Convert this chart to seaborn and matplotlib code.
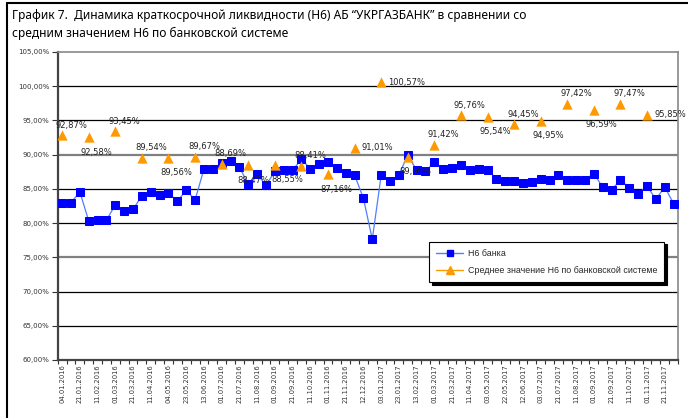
import numpy as np
import pandas as pd
import matplotlib.pyplot as plt
from matplotlib.lines import Line2D
import seaborn as sns

# tick labels (every second observation is labelled)
date_labels = ["04.01.2016", "21.01.2016", "11.02.2016", "01.03.2016", "21.03.2016",
               "11.04.2016", "04.05.2016", "23.05.2016", "13.06.2016", "01.07.2016",
               "21.07.2016", "11.08.2016", "01.09.2016", "21.09.2016", "11.10.2016",
               "01.11.2016", "21.11.2016", "12.12.2016", "03.01.2017", "23.01.2017",
               "13.02.2017", "01.03.2017", "21.03.2017", "11.04.2017", "03.05.2017",
               "22.05.2017", "12.06.2017", "03.07.2017", "21.07.2017", "11.08.2017",
               "01.09.2017", "21.09.2017", "11.10.2017", "01.11.2017", "21.11.2017"]

# Н6 банка (70 observations)
bank_h6 = [83.0, 83.0, 84.55, 80.3, 80.45, 80.45, 82.65, 81.7, 82.0, 84.0,
           84.55, 84.06, 84.4, 83.2, 84.8, 83.4, 87.87, 87.9, 88.79, 89.08,
           88.2, 85.67, 87.2, 85.5, 87.57, 87.72, 87.72, 89.33, 87.97, 88.7,
           88.89, 88.1, 87.38, 87.03, 83.6, 77.63, 86.99, 86.1, 87.03, 89.96,
           87.72, 87.57, 88.93, 87.87, 88.1, 88.55, 87.77, 87.87, 87.82, 86.5,
           86.16, 86.16, 85.92, 86.06, 86.4, 86.3, 86.99, 86.35, 86.35, 86.35,
           87.24, 85.23, 84.89, 86.26, 85.19, 84.31, 85.42, 83.48, 85.28, 82.85]

# Среднее значение Н6 по банковской системе (every third observation)
system_h6 = [92.87, 92.58, 93.45, 89.54, 89.56, 89.67, 88.69, 88.47, 88.55, 88.41,
             87.16, 91.01, 100.57, 89.69, 91.42, 95.76, 95.54, 94.45, 94.95, 97.42,
             96.59, 97.47, 95.85]
system_label_pos = ["above", "below", "above", "above", "below", "above", "above", "below",
                    "below", "above", "below", "right", "right", "below", "above", "above",
                    "below", "above", "below", "above", "below", "above", "right"]

n = len(bank_h6)
bank_df = pd.DataFrame({"x": np.arange(n), "v": bank_h6})
sys_df = pd.DataFrame({"x": np.arange(0, n, 3)[:len(system_h6)], "v": system_h6})

sns.set_style("white")
plt.rcParams['font.family'] = ['DejaVu Sans']

fig = plt.figure(figsize=(6.88, 4.18), dpi=100)
ax = fig.add_axes([0.0839, 0.1388, 0.9016, 0.7368])

# gridlines (Excel renders two of them grey)
for g in range(65, 105, 5):
    if g in (90, 75):
        ax.axhline(g, color="#808080", lw=1.6, zorder=0)
    else:
        ax.axhline(g, color="black", lw=0.9, zorder=0)

sns.lineplot(data=bank_df, x="x", y="v", ax=ax, color="#4F7FFF", lw=0.9,
             marker="s", markersize=5.2, markerfacecolor="#0000FF",
             markeredgecolor="#0000FF", zorder=3)
sns.scatterplot(data=sys_df, x="x", y="v", ax=ax, marker="^", s=55,
                color="#FF9900", edgecolor="#FF9900", linewidth=0, zorder=4)

# small horizontal nudges for two crowded labels
nudge = {7: -3, 8: 4}
for i, (xi, v, pos) in enumerate(zip(sys_df["x"], sys_df["v"], system_label_pos)):
    txt = f"{v:.2f}%".replace(".", ",")
    if pos == "above":
        off, ha = [9, 10], "center"
    elif pos == "below":
        off, ha = [8, -15], "center"
    else:
        off, ha = [7, 0], "left"
    off[0] += nudge.get(i, 0)
    ax.annotate(txt, (xi, v), xytext=off, textcoords="offset pixels",
                ha=ha, va="center", fontsize=6.0, color="#222222", zorder=5)

ax.set_xlim(-0.5, n - 0.5)
ax.set_ylim(60, 105)
ax.set_yticks(range(60, 106, 5))
ax.set_yticklabels([f"{t},00%" for t in range(60, 106, 5)], fontsize=5, color="#333333")
ax.set_xticks(np.arange(0, n, 2))
ax.set_xticklabels(date_labels, rotation=90, fontsize=4.9, color="#333333")
ax.set_xticks(np.arange(-0.5, n, 1), minor=True)
ax.tick_params(axis="x", which="major", length=0, pad=3)
ax.tick_params(axis="x", which="minor", length=3, width=0.8, color="#333333", direction="out", bottom=True)
ax.tick_params(axis="y", length=4, width=0.8, color="#333333", direction="out", left=True, pad=2)
ax.set_xlabel("")
ax.set_ylabel("")

for side in ("left", "bottom"):
    ax.spines[side].set_color("#444444")
    ax.spines[side].set_linewidth(1.6)
for side in ("top", "right"):
    ax.spines[side].set_color("#888888")
    ax.spines[side].set_linewidth(1.2)

handles = [
    Line2D([], [], color="#4F7FFF", lw=1, marker="s", markersize=5,
           markerfacecolor="#0000FF", markeredgecolor="#0000FF"),
    Line2D([], [], color="#FF9900", lw=1, marker="^", markersize=6,
           markerfacecolor="#FF9900", markeredgecolor="#FF9900"),
]
leg = ax.legend(handles, ["Н6 банка", "Среднее значение Н6 по банковской системе"],
                loc="upper left", bbox_to_anchor=(0.592, 0.399),
                prop={"family": ["Liberation Sans", "DejaVu Sans"], "size": 6.4},
                frameon=True, fancybox=False, framealpha=1, edgecolor="black",
                shadow={"color": "black", "alpha": 1}, handlelength=3,
                handletextpad=0.5, borderpad=0.8, labelspacing=0.9)
leg.get_frame().set_linewidth(0.8)
leg.set_zorder(10)

fig.text(12 / 688, 1 - 9 / 418,
         "График 7.  Динамика краткосрочной ликвидности (Н6) АБ “УКРГАЗБАНК” в сравнении со\n"
         "средним значением Н6 по банковской системе",
         ha="left", va="top", fontsize=8.6, family=["Noto Sans", "DejaVu Sans"],
         linespacing=1.45, color="black")

# outer chart border
fig.add_artist(Line2D([7 / 688, 7 / 688], [0, 1 - 3 / 418], color="black", lw=1.5))
fig.add_artist(Line2D([7 / 688, 1], [1 - 3 / 418, 1 - 3 / 418], color="black", lw=1.5))

fig.savefig("out.png", dpi=100)
